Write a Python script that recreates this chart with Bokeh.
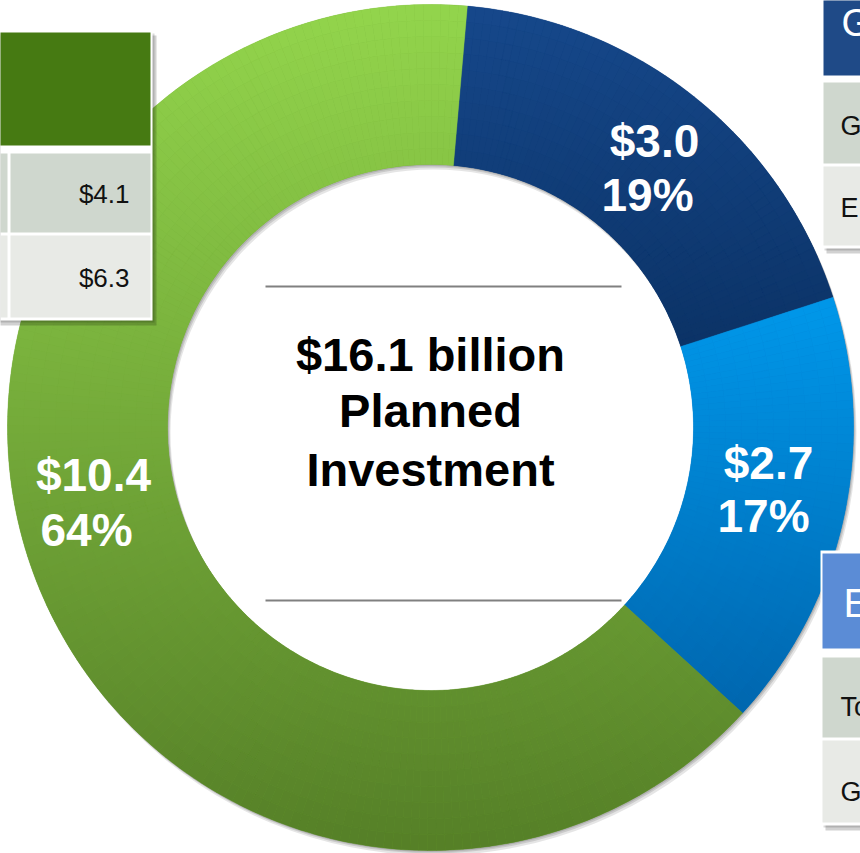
import math
import numpy as np
from bokeh.plotting import figure
from bokeh.models import Range1d, ColumnDataSource
from bokeh.core.properties import value
from bokeh.embed import file_html
from bokeh.resources import INLINE

# ---------------- data ----------------
segments = ["Gas", "Electric", "Other"]
amounts = [3.0, 2.7, 10.4]            # $ billion
percents = [19, 17, 64]
total_label = ["$16.1 billion", "Planned", "Investment"]
left_table_values = ["$4.1", "$6.3"]
top_right_header = "G"
top_right_rows = ["G", "E"]
bottom_right_header = "E"
bottom_right_rows = ["To", "G"]

# gradient colours (top, bottom) per segment and their vertical span (screen px)
seg_grad = [("#16488b", "#0b3265"), ("#0096e8", "#0064ac"), ("#93d54c", "#557f27")]
seg_span = [(5, 355), (312, 727), (5, 851)]

W, H = 860, 853
def Y(s):
    return H - s

CX, CY = 430, 427
R_IN, R_OUT = 263, 423
START_CW = 5.0

p = figure(width=W, height=H, x_range=Range1d(0, W), y_range=Range1d(0, H),
           output_backend="svg", toolbar_location=None, min_border=0,
           x_axis_location=None, y_axis_location=None)
p.grid.visible = False
p.outline_line_color = None
p.background_fill_color = "white"
p.border_fill_color = "white"

FONT = value("Liberation Sans")

def txt(xs_, base_ys, texts, size, **kw):
    # place by visual baseline (screen px)
    off = 0.38 * size
    p.text(x=xs_, y=[Y(b - off) for b in base_ys], text=texts, text_baseline="alphabetic",
           text_font=FONT, text_font_size="%dpx" % size, **kw)

def hex2rgb(h):
    h = h.lstrip("#")
    return np.array([int(h[i:i + 2], 16) for i in (0, 2, 4)], dtype=float)

def mix(c0, c1, t):
    t = min(max(t, 0.0), 1.0)
    c = hex2rgb(c0) * (1 - t) + hex2rgb(c1) * t
    return "#%02x%02x%02x" % tuple(int(round(v)) for v in c)

# ---------------- donut shadow ----------------
for dx, dy, a in [(3, 5, 0.10), (2, 3, 0.12), (1, 1.5, 0.12)]:
    p.annulus(x=[CX + dx], y=[Y(CY + dy)], inner_radius=R_IN, outer_radius=R_OUT,
              fill_color="black", fill_alpha=a, line_color=None)

# ---------------- donut with vertical gradients ----------------
total = sum(amounts)
bounds = [START_CW]
for v in amounts:
    bounds.append(bounds[-1] + v / total * 360.0)

base_cols = [mix(c0, c1, 0.5) for c0, c1 in seg_grad]
p.annular_wedge(x=[CX] * 3, y=[Y(CY)] * 3, inner_radius=R_IN, outer_radius=R_OUT,
                start_angle=[math.radians(90 - b) for b in bounds[:-1]],
                end_angle=[math.radians(90 - b) for b in bounds[1:]],
                direction="clock", fill_color=base_cols, line_color=None)

xs, ys, ri, ro, sa, ea, cols = [], [], [], [], [], [], []
NB = 10
band_edges = np.linspace(R_IN, R_OUT, NB + 1)
for k in range(len(amounts)):
    a0, a1 = bounds[k], bounds[k + 1]
    n = int(math.ceil((a1 - a0) / 1.2))
    edges = np.linspace(a0, a1, n + 1)
    top_c, bot_c = seg_grad[k]
    y0, y1 = seg_span[k]
    for j in range(n):
        for b in range(NB):
            am = math.radians((edges[j] + edges[j + 1]) / 2)
            rm = (band_edges[b] + band_edges[b + 1]) / 2
            sy = CY - rm * math.cos(am)
            xs.append(CX); ys.append(Y(CY))
            ri.append(band_edges[b]); ro.append(band_edges[b + 1])
            sa.append(math.radians(90 - edges[j])); ea.append(math.radians(90 - edges[j + 1]))
            cols.append(mix(top_c, bot_c, (sy - y0) / (y1 - y0)))

src = ColumnDataSource(dict(x=xs, y=ys, ri=ri, ro=ro, sa=sa, ea=ea, c=cols))
p.annular_wedge(x="x", y="y", inner_radius="ri", outer_radius="ro", start_angle="sa",
                end_angle="ea", direction="clock", fill_color="c", line_color="c",
                line_width=0.4, source=src)

# ---------------- tables (on top of the donut) ----------------
def table(x0, x1, y_top, y_bot, header, rows, header_color, cols=None):
    p.quad(left=x0 + 3, right=x1 + 4, top=Y(y_top + 3), bottom=Y(y_bot + 5),
           fill_color="black", fill_alpha=0.18, line_color=None)
    p.quad(left=x0 + 1, right=x1 + 2, top=Y(y_top + 1), bottom=Y(y_bot + 2),
           fill_color="black", fill_alpha=0.15, line_color=None)
    p.quad(left=x0 - 2, right=x1, top=Y(y_top - 2), bottom=Y(y_bot),
           fill_color="white", line_color=None)
    hy0, hy1 = header
    p.quad(left=x0, right=x1 - 2, top=Y(hy0), bottom=Y(hy1), fill_color=header_color, line_color=None)
    rc = ["#cfd7ce", "#e8eae6"]
    for i, (ry0, ry1) in enumerate(rows):
        if cols is None:
            p.quad(left=x0, right=x1 - 2, top=Y(ry0), bottom=Y(ry1), fill_color=rc[i], line_color=None)
        else:
            for (cx0, cx1) in cols:
                p.quad(left=cx0, right=cx1, top=Y(ry0), bottom=Y(ry1), fill_color=rc[i], line_color=None)

table(-10, 152, 32, 320, (32, 145), [(153, 232), (235, 317)], "#467a12",
      cols=[(-10, 7), (10, 150)])
table(823, 880, -10, 248, (-10, 75), [(82, 163), (166, 245)], "#1f4a87")
table(822, 880, 552, 825, (553, 648), [(657, 737), (740, 822)], "#5b8cd6")

txt([129, 129], [203, 287], left_table_values, 26, text_align="right", text_color="#111111")
txt([841], [37], [top_right_header], 38, text_align="left", text_color="white")
txt([840, 840], [136, 218], top_right_rows, 27, text_align="left", text_color="#111111")
txt([843], [618], [bottom_right_header], 40, text_align="left", text_color="white")
txt([840, 840], [717, 802], bottom_right_rows, 27, text_align="left", text_color="#111111")

# ---------------- centre ----------------
p.segment(x0=[265, 265], y0=[Y(286), Y(600)], x1=[621, 621], y1=[Y(286), Y(600)],
          line_color="#808080", line_width=2)
txt([430, 430, 430], [372, 428, 487], total_label, 47, text_align="center",
    text_font_style="bold", text_color="black")

# ---------------- slice labels ----------------
label_pos = [(654, 158, 647, 212), (768, 480, 763, 533), (93, 492, 86, 547)]
for k in range(len(amounts)):
    x1_, y1_, x2_, y2_ = label_pos[k]
    txt([x1_, x2_], [y1_, y2_], ["$%.1f" % amounts[k], "%d%%" % percents[k]], 46,
        text_align="center", text_font_style="bold", text_color="white")

open("out.html", "w").write(file_html(p, INLINE))
